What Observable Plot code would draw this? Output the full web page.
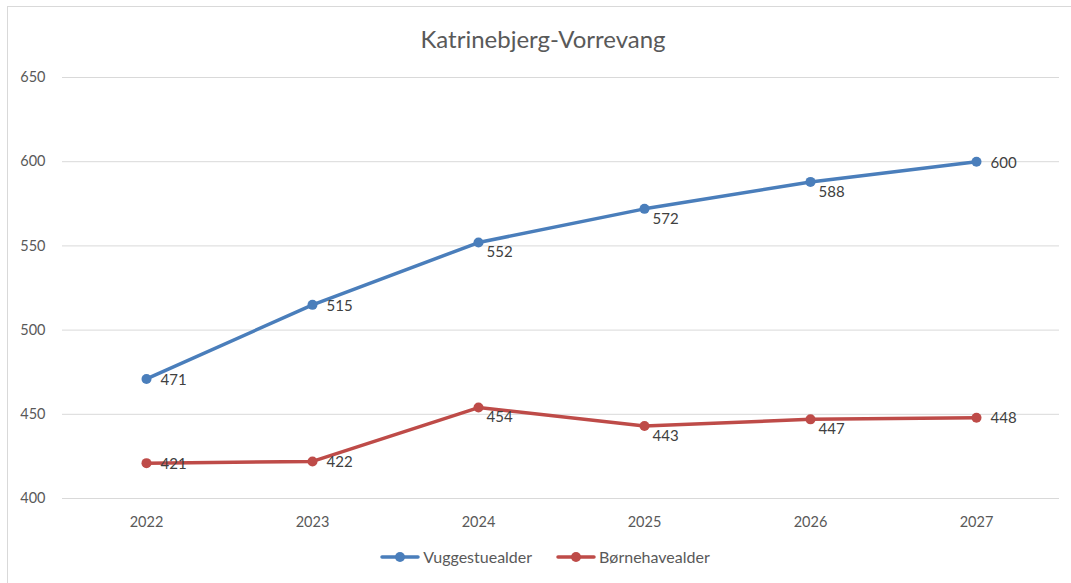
<!DOCTYPE html>
<html>
<head>
<meta charset="utf-8">
<script src="https://cdn.jsdelivr.net/npm/d3@7"></script>
<script src="https://cdn.jsdelivr.net/npm/@observablehq/plot@0.6"></script>
<style>
  html, body { margin: 0; padding: 0; background: #fff; }
  body { width: 1071px; height: 583px; position: relative; overflow: hidden; font-family: Lato, "Noto Sans", sans-serif; }
  #frame { position: absolute; left: 7px; top: 6px; width: 1080px; height: 600px; border-left: 1px solid #d9d9d9; border-top: 1px solid #d9d9d9; box-sizing: border-box; }
  #title { position: absolute; left: 0; width: 1086px; top: 24px; text-align: center; font-size: 24px; color: #595959; }
  #chart { position: absolute; left: 0; top: 60px; }
  #legend { position: absolute; left: 0; top: 547px; width: 1090px; display: flex; justify-content: center; gap: 24px; font-size: 16px; color: #595959; }
  .item { display: flex; align-items: center; gap: 3px; }
  .item svg { display: block; }
</style>
</head>
<body>
<div id="frame"></div>
<div id="title">Katrinebjerg-Vorrevang</div>
<div id="chart"></div>
<div id="legend"></div>
<script>
const years = ["2022", "2023", "2024", "2025", "2026", "2027"];
const vuggestue = [471, 515, 552, 572, 588, 600];
const boernehave = [421, 422, 454, 443, 447, 448];
const seriesNames = ["Vuggestuealder", "Børnehavealder"];
const seriesColors = ["#4a7ebb", "#be4b48"];
const yTicks = [400, 450, 500, 550, 600, 650];
// label placement per year (as in the original chart: some labels sit below-right)
const labelPlacement = ["right", "right", "below", "below", "below", "right"];

const data = [];
years.forEach((y, i) => {
  data.push({year: y, value: vuggestue[i], series: seriesNames[0], place: labelPlacement[i]});
  data.push({year: y, value: boernehave[i], series: seriesNames[1], place: labelPlacement[i]});
});

const plot = Plot.plot({
  width: 1071,
  height: 478,
  marginLeft: 62,
  marginRight: 12,
  marginTop: 17,
  marginBottom: 40,
  style: {fontFamily: "Lato, 'Noto Sans', sans-serif", fontSize: "14px", color: "#595959", background: "transparent"},
  x: {type: "point", domain: years, padding: 0.5, label: null},
  y: {domain: [400, 650], label: null},
  color: {domain: seriesNames, range: seriesColors},
  marks: [
    Plot.ruleY(yTicks, {stroke: "#d9d9d9", strokeWidth: 1}),
    Plot.axisY({ticks: yTicks, tickSize: 0, tickPadding: 17, label: null, fill: "#595959", fontSize: 14.5}),
    Plot.axisX({tickSize: 0, tickPadding: 18, label: null, fill: "#595959", fontSize: 14.5}),
    Plot.line(data, {x: "year", y: "value", z: "series", stroke: "series", strokeWidth: 3.5, strokeLinejoin: "round", strokeLinecap: "round"}),
    Plot.dot(data, {x: "year", y: "value", fill: "series", r: 5}),
    Plot.text(data.filter(d => d.place === "right"), {x: "year", y: "value", text: d => String(d.value), textAnchor: "start", dx: 14, dy: 1, fill: "#404040", fontSize: 15}),
    Plot.text(data.filter(d => d.place === "below"), {x: "year", y: "value", text: d => String(d.value), textAnchor: "start", dx: 8, dy: 10, fill: "#404040", fontSize: 15})
  ]
});
document.getElementById("chart").appendChild(plot);

const legend = document.getElementById("legend");
seriesNames.forEach((name, i) => {
  const item = document.createElement("div");
  item.className = "item";
  item.innerHTML = `<svg width="40" height="12"><line x1="2" y1="6" x2="38" y2="6" stroke="${seriesColors[i]}" stroke-width="3.5" stroke-linecap="round"/><circle cx="20" cy="6" r="5" fill="${seriesColors[i]}"/></svg><span>${name}</span>`;
  legend.appendChild(item);
});
</script>
</body>
</html>
